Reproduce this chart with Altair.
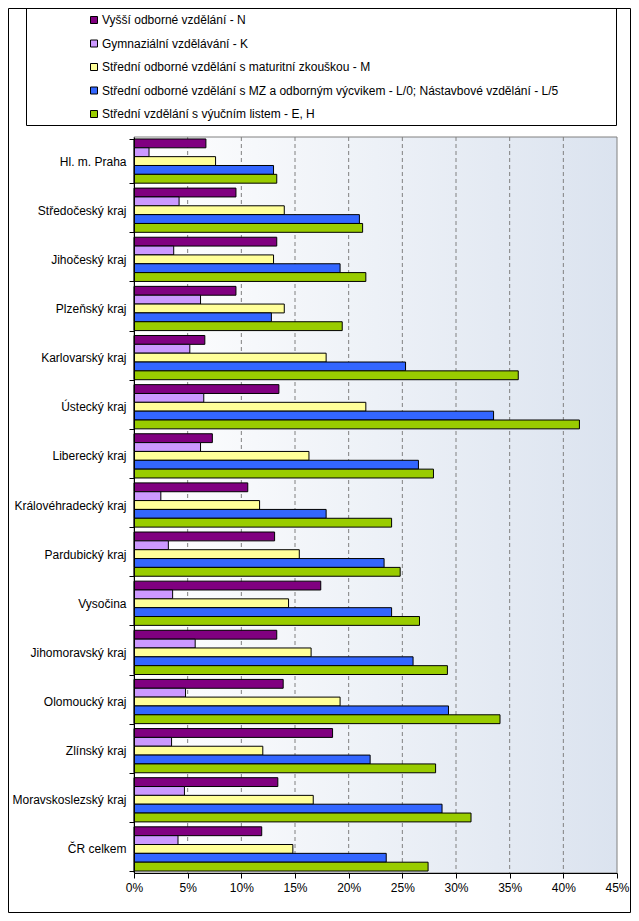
import altair as alt
import pandas as pd

regions = ["Hl. m. Praha", "Středočeský kraj", "Jihočeský kraj", "Plzeňský kraj",
           "Karlovarský kraj", "Ústecký kraj", "Liberecký kraj", "Královéhradecký kraj",
           "Pardubický kraj", "Vysočina", "Jihomoravský kraj", "Olomoucký kraj",
           "Zlínský kraj", "Moravskoslezský kraj", "ČR celkem"]

series_names = [
    "Vyšší odborné vzdělání - N",
    "Gymnaziální vzdělávání - K",
    "Střední odborné vzdělání s maturitní zkouškou - M",
    "Střední odborné vzdělání s MZ a odborným výcvikem - L/0; Nástavbové vzdělání - L/5",
    "Střední vzdělání s výučním listem - E, H",
]
series_colors = ["#800080", "#CC99FF", "#FFFF99", "#3366FF", "#99CC00"]

val_N = [6.7, 9.5, 13.3, 9.5, 6.6, 13.5, 7.3, 10.6, 13.1, 17.4, 13.3, 13.9, 18.5, 13.4, 11.9]
val_K = [1.4, 4.2, 3.7, 6.2, 5.2, 6.5, 6.2, 2.5, 3.2, 3.6, 5.7, 4.8, 3.5, 4.7, 4.1]
val_M = [7.6, 14.0, 13.0, 14.0, 17.9, 21.6, 16.3, 11.7, 15.4, 14.4, 16.5, 19.2, 12.0, 16.7, 14.8]
val_L = [13.0, 21.0, 19.2, 12.8, 25.3, 33.5, 26.5, 17.9, 23.3, 24.0, 26.0, 29.3, 22.0, 28.7, 23.5]
val_E = [13.3, 21.3, 21.6, 19.4, 35.8, 41.5, 27.9, 24.0, 24.8, 26.6, 29.2, 34.1, 28.1, 31.4, 27.4]

x_ticks = [0, 5, 10, 15, 20, 25, 30, 35, 40, 45]
grid_values = [5, 10, 15, 20, 25, 30, 35, 40]

rows = []
for s, vals in zip(series_names, [val_N, val_K, val_M, val_L, val_E]):
    for r, v in zip(regions, vals):
        rows.append({"region": r, "series": s, "value": v})
df = pd.DataFrame(rows)

PLOT_W = 483
PLOT_H = 736
FONT = "Liberation Sans"

xscale = alt.Scale(domain=[0, 45], nice=False, zero=True)

background = alt.Chart(pd.DataFrame({"x0": [0], "x1": [45]})).mark_rect(
    fill=alt.LinearGradient(
        gradient="linear", x1=0, y1=0, x2=1, y2=0,
        stops=[alt.GradientStop(offset=0, color="#ffffff"),
               alt.GradientStop(offset=1, color="#dbe3ef")]),
    stroke="#808080", strokeWidth=1
).encode(
    x=alt.X("x0:Q", scale=xscale),
    x2="x1:Q",
    y=alt.value(0),
    y2=alt.value(PLOT_H),
)

grid = alt.Chart(pd.DataFrame({"g": grid_values})).mark_rule(
    color="#808080", strokeDash=[4, 3], strokeWidth=1
).encode(
    x=alt.X("g:Q", scale=xscale),
    y=alt.value(0),
    y2=alt.value(PLOT_H),
)

bars = alt.Chart(df).mark_bar(stroke="black", strokeWidth=1, cornerRadius=0).encode(
    x=alt.X("value:Q", scale=xscale,
            axis=alt.Axis(values=x_ticks, labelExpr="datum.value + '%'", title=None,
                          grid=False, tickSize=5, labelPadding=4, domainColor="black",
                          tickColor="black", labelColor="black", labelFontSize=12,
                          labelFont=FONT, zindex=1, labelFlush=False)),
    y=alt.Y("region:N", sort=regions,
            scale=alt.Scale(paddingInner=0.1, paddingOuter=0.04),
            axis=alt.Axis(title=None, tickBand="extent", tickSize=5, labelPadding=3,
                          domainColor="black", tickColor="black", labelColor="black",
                          labelFontSize=12, labelFont=FONT, zindex=1)),
    yOffset=alt.YOffset("series:N", sort=series_names,
                        scale=alt.Scale(paddingInner=0, paddingOuter=0)),
    color=alt.Color("series:N", sort=series_names,
                    scale=alt.Scale(domain=series_names, range=series_colors),
                    legend=alt.Legend(title=None, orient="none", legendX=-46, legendY=-123,
                                      symbolType="square", symbolSize=49,
                                      symbolStrokeColor="black", symbolStrokeWidth=1,
                                      labelFontSize=12, labelFont=FONT, labelColor="black",
                                      rowPadding=11.5, labelOffset=2, labelLimit=600,
                                      padding=0)),
)

one = pd.DataFrame({"a": [0]})
legend_box = alt.Chart(one).mark_rect(fill="white", fillOpacity=0, stroke="black", strokeWidth=1).encode(
    x=alt.value(-107.5), x2=alt.value(PLOT_W - 0.5),
    y=alt.value(-128.5), y2=alt.value(-11.5),
)

outer_box = alt.Chart(one).mark_rect(fill="white", fillOpacity=0, stroke="black", strokeWidth=1).encode(
    x=alt.value(-125.5), x2=alt.value(496.5),
    y=alt.value(-128.5), y2=alt.value(775.5),
)

chart = alt.layer(background, grid, bars, legend_box, outer_box).properties(
    width=PLOT_W, height=PLOT_H,
    autosize=alt.AutoSizeParams(type="none"),
    padding={"left": 126, "top": 129, "right": 14, "bottom": 40},
).configure_view(stroke=None)

chart.save("out.html", embed_options={"renderer": "svg", "actions": False})
